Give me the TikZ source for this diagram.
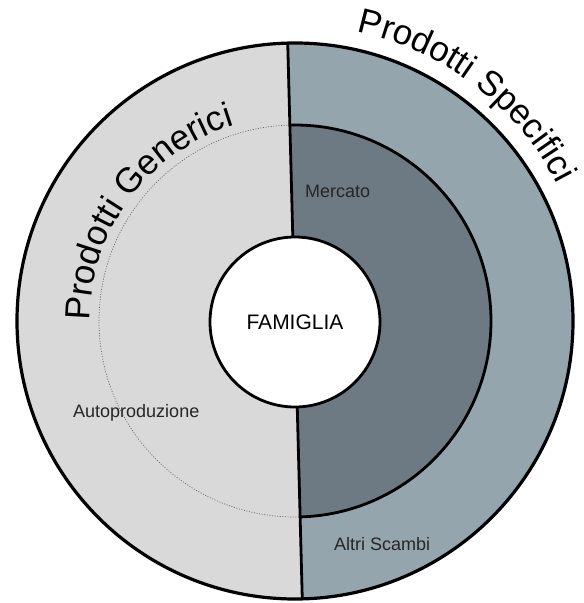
\documentclass[tikz,border=0pt]{standalone}
\usepackage{fontspec}
\setmainfont{Liberation Sans}
\usepackage{tikz}
\usepackage{xcolor}
\usetikzlibrary{decorations.text}

\definecolor{genericgray}{HTML}{D9D9D9}
\definecolor{specificblue}{HTML}{95A5AE}
\definecolor{marketblue}{HTML}{6D7A83}

\newcommand\ringfont{\fontsize{35}{42}\selectfont}
\newcommand\labelfont{\fontsize{18}{22}\selectfont}

\begin{document}
\begin{tikzpicture}[x=1pt, y=1pt,
    ring/.style={line width=2.8pt},
    arclabel/.style={decorate, decoration={text along path, text align=left, text={#1}}},
    smalllabel/.style={anchor=base west, inner sep=0pt, font=\labelfont, text=black!85}]
    \useasboundingbox (-295,-282) rectangle (289,321);

    \coordinate (top) at (91.5:278);
    \coordinate (bottom) at (271.5:278);

    \fill[genericgray] (top) arc[start angle=91.5, end angle=271.5, radius=278] -- cycle;
    \fill[specificblue] (bottom) arc[start angle=-88.5, end angle=91.5, radius=278] -- cycle;
    \fill[marketblue] (-88.5:196) arc[start angle=-88.5, end angle=91.5, radius=196] -- cycle;

    \draw[ring] (-88.5:196) arc[start angle=-88.5, end angle=91.5, radius=196];
    \draw[black!60, line width=0.7pt, dash pattern=on 1pt off 1.6pt]
        (91.5:196) arc[start angle=91.5, end angle=271.5, radius=196];

    \draw[ring] (top) -- (bottom);
    \draw[ring, line width=3.2pt] (0,0) circle[radius=278];

    \node[circle, draw, ring, fill=white, minimum size=170pt, inner sep=0pt,
          font=\fontsize{21}{25}\selectfont] (famiglia) at (0,-1) {FAMIGLIA};

    \path[arclabel={|\ringfont|Prodotti Generici}]
        (180:205) arc[start angle=180, end angle=100, radius=205];
    \path[arclabel={|\ringfont|Prodotti Specifici}]
        (78:296) arc[start angle=78, end angle=15, radius=296];

    \node[smalllabel] (mercato) at (10,124) {Mercato};
    \node[smalllabel] (autoprod) at (-222,-96) {Autoproduzione};
    \node[smalllabel] (altri) at (39,-229) {Altri Scambi};
\end{tikzpicture}
\end{document}
